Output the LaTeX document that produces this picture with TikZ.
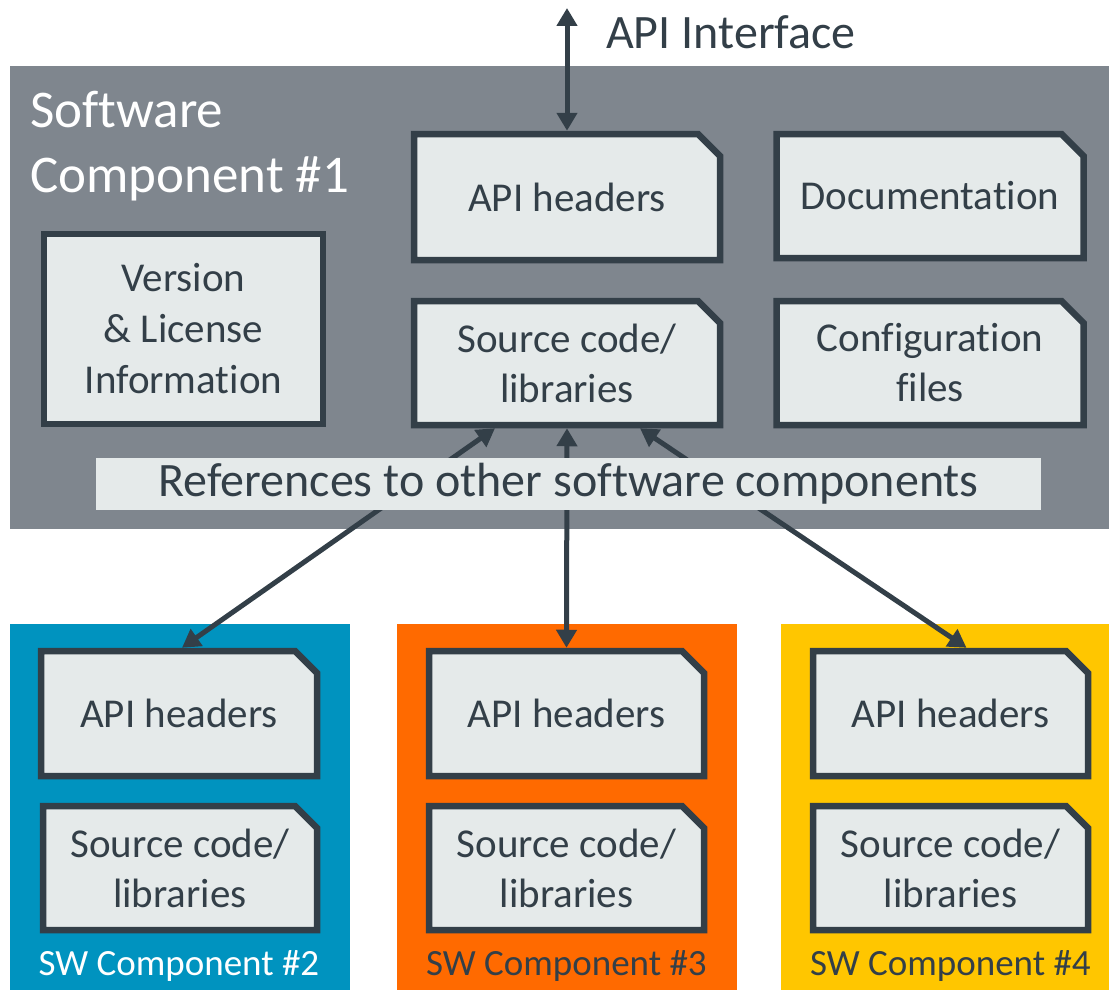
\documentclass[tikz,border=0pt]{standalone}
\usepackage{fontspec}
\setmainfont{Carlito}[Ligatures=NoCommon]
\usetikzlibrary{shapes.misc,arrows.meta,calc}
\definecolor{slate}{HTML}{333F48}
\definecolor{compgray}{HTML}{7F868E}
\definecolor{paper}{HTML}{E5EAEA}
\definecolor{swblue}{HTML}{0093BF}
\definecolor{sworange}{HTML}{FF6A00}
\definecolor{swyellow}{HTML}{FFC600}
\begin{document}
\begin{tikzpicture}[x=1pt,y=-1pt,
  docbox/.style={chamfered rectangle,chamfered rectangle corners=north east,
    chamfered rectangle xsep=11pt,chamfered rectangle ysep=11pt,
    draw=slate,fill=paper,line width=6.5pt,text=slate,align=center,inner sep=0pt,
    font=\fontsize{41}{50}\selectfont},
  infobox/.style={rectangle,draw=slate,fill=paper,line width=6.5pt,text=slate,align=center,
    inner sep=0pt,font=\fontsize{41}{51}\selectfont},
  compbox/.style={rectangle,draw=none,inner sep=0pt,minimum width=340pt,minimum height=366pt},
  swtag/.style={inner sep=0pt,font=\fontsize{37}{40}\selectfont},
  refarrow/.style={draw=slate,line width=5pt,
    {Triangle[length=18pt,width=20pt]}-{Triangle[length=18pt,width=20pt]}}
  ]
  \useasboundingbox (0,0) rectangle (1109,990);

  \fill[compgray] (10,66) rectangle (1109,529);
  \node[compbox,fill=swblue] (sw2) at (180,807) {};
  \node[compbox,fill=sworange] (sw3) at (567,807) {};
  \node[compbox,fill=swyellow,minimum width=328pt] (sw4) at (945,807) {};

  \node[anchor=north west,inner sep=0pt,text=white,align=left,
    font=\fontsize{53}{65}\selectfont] (title) at (30,91) {Software\\Component \#1};
  \node[anchor=west,inner sep=0pt,text=slate,font=\fontsize{48}{50}\selectfont]
    (apitext) at (606,32) {API Interface};

  \node[docbox,minimum width=306pt,minimum height=126pt] (apihdr) at (567,197) {API headers};
  \node[docbox,minimum width=307pt,minimum height=124pt] (docu) at (930,196) {Documentation};
  \node[docbox,minimum width=306pt,minimum height=124pt] (src) at (567,363) {Source code/\\libraries};
  \node[docbox,minimum width=307pt,minimum height=124pt] (config) at (930,363) {Configuration\\files};
  \node[infobox,minimum width=279pt,minimum height=190pt] (version) at (183.5,329)
    {Version\\\& License\\Information};

  \node[docbox,minimum width=276pt,minimum height=125pt] (bapi) at (179,713.5) {API headers};
  \node[docbox,minimum width=274pt,minimum height=124pt] (bsrc) at (180,868) {Source code/\\libraries};
  \node[docbox,minimum width=275pt,minimum height=125pt] (oapi) at (566.5,713.5) {API headers};
  \node[docbox,minimum width=275pt,minimum height=124pt] (osrc) at (566.5,868) {Source code/\\libraries};
  \node[docbox,minimum width=275pt,minimum height=125pt] (yapi) at (950.5,713.5) {API headers};
  \node[docbox,minimum width=275pt,minimum height=124pt] (ysrc) at (950.5,868) {Source code/\\libraries};

  \node[swtag,text=white] (tag2) at (179,966) {SW Component \#2};
  \node[swtag,text=slate] (tag3) at (566.5,966) {SW Component \#3};
  \node[swtag,text=slate] (tag4) at (950.5,966) {SW Component \#4};

  \coordinate (apitop) at (567,8);
  \draw[refarrow] (apitop) -- (apihdr.north);
  \draw[refarrow] ($(src.south)+(-72,0)$) -- ($(bapi.north)+(3,0)$);
  \draw[refarrow] (src.south) -- (oapi.north);
  \draw[refarrow] ($(src.south)+(73,0)$) -- ($(yapi.north)+(16,0)$);

  \node[fill=paper,inner sep=0pt,minimum width=945pt,minimum height=52pt,text=slate,
    font=\fontsize{48}{50}\selectfont] (refs) at (568.5,484) {References to other software components};
\end{tikzpicture}
\end{document}
